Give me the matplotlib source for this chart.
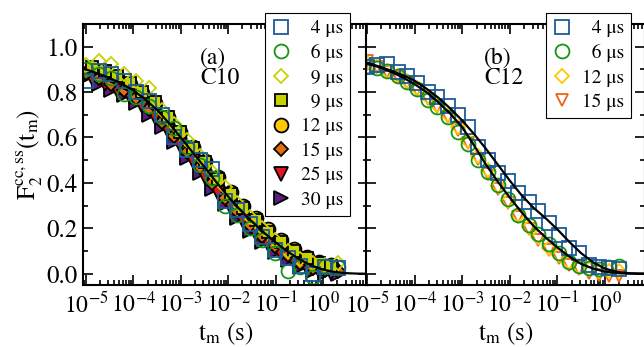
import numpy as np
import matplotlib.pyplot as plt
from matplotlib.ticker import LogLocator, MultipleLocator, NullFormatter, FormatStrFormatter

plt.rcParams['font.family'] = ['STIXGeneral', 'DejaVu Serif']
plt.rcParams['mathtext.fontset'] = 'stix'
plt.rcParams['axes.unicode_minus'] = False

# ---- panel (a) C10 ----
t_a = [1.0e-5, 1.9e-5, 3.4e-5, 6.3e-5, 1.15e-4, 2.1e-4, 4.0e-4, 7.2e-4, 1.35e-3, 2.5e-3,
       4.6e-3, 8.5e-3, 1.55e-2, 2.9e-2, 5.2e-2, 9.8e-2, 0.18, 0.33, 0.62, 1.12, 2.1]
t_b = [1.35e-5, 2.5e-5, 4.6e-5, 8.5e-5, 1.55e-4, 2.9e-4, 5.4e-4, 9.8e-4, 1.8e-3, 3.3e-3,
       6.2e-3, 1.15e-2, 2.1e-2, 3.9e-2, 7.1e-2, 0.13, 0.245, 0.45, 0.83, 1.5]

a_4us = [0.85, 0.895, 0.88, 0.85, 0.80, 0.76, 0.70, 0.60, 0.545, 0.50, 0.46,
         0.32, 0.28, 0.22, 0.16, 0.105, 0.07, 0.035, 0.0, 0.03, 0.025]
a_6us = [0.90, 0.88, 0.86, 0.79, 0.78, 0.74, 0.69, 0.64, 0.56, 0.48, 0.42,
         0.30, 0.26, 0.20, 0.15, 0.09, 0.01, 0.03, -0.015, 0.035, 0.03]
a_9us_open = [0.92, 0.935, 0.925, 0.88, 0.85, 0.82, 0.72, 0.66, 0.59, 0.52, 0.45,
              0.38, 0.31, 0.25, 0.20, 0.15, 0.10, 0.065, 0.045, 0.04, 0.045]
a_9us = [0.91, 0.895, 0.87, 0.84, 0.80, 0.755, 0.69, 0.625, 0.555, 0.49,
         0.415, 0.35, 0.29, 0.235, 0.185, 0.14, 0.10, 0.07, 0.045, 0.035]
a_12us = [0.905, 0.89, 0.865, 0.835, 0.795, 0.75, 0.69, 0.625, 0.56, 0.495,
          0.425, 0.36, 0.30, 0.245, 0.195, 0.15, 0.11, 0.075, 0.05, 0.04]
a_15us = [0.885, 0.86, 0.835, 0.81, 0.775, 0.725, 0.67, 0.605, 0.535, 0.47, 0.40,
          0.335, 0.275, 0.215, 0.165, 0.12, 0.08, 0.045, 0.025, 0.015, 0.01]
a_25us = [0.86, 0.835, 0.81, 0.78, 0.74, 0.69, 0.63, 0.565, 0.495, 0.425,
          0.355, 0.29, 0.23, 0.175, 0.13, 0.085, 0.05, 0.025, 0.01, 0.005]
a_30us = [0.865, 0.835, 0.81, 0.785, 0.75, 0.70, 0.645, 0.58, 0.51, 0.445, 0.375,
          0.305, 0.245, 0.19, 0.14, 0.095, 0.06, 0.03, 0.012, 0.005, 0.0]

fit_t = [8.0e-6, 1.0e-5, 1.78e-5, 3.16e-5, 5.62e-5, 1.0e-4, 1.78e-4, 3.16e-4, 5.62e-4, 1.0e-3,
         1.78e-3, 3.16e-3, 5.62e-3, 1.0e-2, 1.78e-2, 3.16e-2, 5.62e-2, 0.1, 0.178, 0.316,
         0.562, 1.0, 1.78, 3.16, 5.62, 10.0, 13.0]
fit_a = [0.905, 0.900, 0.882, 0.862, 0.838, 0.808, 0.768, 0.722, 0.664, 0.600,
         0.535, 0.470, 0.404, 0.340, 0.282, 0.230, 0.182, 0.138, 0.098, 0.064,
         0.036, 0.018, 0.007, 0.002, 0.0, 0.0, 0.0]

# ---- panel (b) C12 ----
t_c = [1.0e-5, 1.6e-5, 2.6e-5, 4.4e-5, 7.1e-5, 1.15e-4, 1.9e-4, 3.0e-4, 5.0e-4, 8.1e-4,
       1.3e-3, 2.1e-3, 3.5e-3, 5.7e-3, 9.3e-3, 1.5e-2, 2.5e-2, 4.0e-2, 6.6e-2, 0.107,
       0.174, 0.28, 0.46, 0.75, 1.22, 2.0]
b_4us = [0.91, 0.92, 0.925, 0.89, 0.87, 0.84, 0.80, 0.78, 0.74, 0.70, 0.645, 0.56, 0.50,
         0.445, 0.41, 0.355, 0.315, 0.275, 0.225, 0.17, 0.115, 0.09, 0.04, 0.03, 0.025, 0.02]
b_6us = [0.915, 0.905, 0.895, 0.87, 0.845, 0.815, 0.765, 0.735, 0.69, 0.625, 0.57, 0.50,
         0.45, 0.39, 0.33, 0.26, 0.215, 0.175, 0.13, 0.09, 0.05, 0.035, 0.025, 0.02, 0.03, 0.035]
b_12us = [0.93, 0.915, 0.895, 0.87, 0.85, 0.82, 0.78, 0.745, 0.70, 0.645, 0.585, 0.52,
          0.455, 0.385, 0.32, 0.26, 0.205, 0.16, 0.115, 0.08, 0.05, 0.03, 0.02, 0.012, 0.01, 0.01]
b_15us = [0.935, 0.91, 0.89, 0.865, 0.84, 0.81, 0.77, 0.735, 0.69, 0.635, 0.575, 0.505,
          0.44, 0.375, 0.31, 0.25, 0.195, 0.15, 0.105, 0.07, 0.04, 0.02, 0.005, -0.005, -0.01, -0.01]

fit_b_4us = [0.935, 0.930, 0.913, 0.895, 0.875, 0.850, 0.815, 0.775, 0.728, 0.675,
             0.615, 0.550, 0.480, 0.410, 0.345, 0.290, 0.245, 0.195, 0.140, 0.090,
             0.050, 0.022, 0.008, 0.002, 0.0, 0.0, 0.0]
fit_b_rest = [0.93, 0.925, 0.91, 0.89, 0.865, 0.835, 0.800, 0.755, 0.705, 0.645,
              0.565, 0.480, 0.405, 0.335, 0.270, 0.210, 0.160, 0.115, 0.075, 0.043,
              0.022, 0.009, 0.003, 0.0, 0.0, 0.0, 0.0]

decades = [1e-5, 1e-4, 1e-3, 1e-2, 1e-1, 1e0]

blue = '#1e5a96'
green = '#149614'
ygreen = '#c8d200'
gold = '#ffc800'
orange = '#e66e0a'
red = '#e6141e'
purple = '#5a1e82'
orange2 = '#f06414'

W, H = 644, 347
fig = plt.figure(figsize=(W / 100, H / 100), dpi=100)
ax1 = fig.add_axes([83 / W, 1 - 285 / H, 285 / W, 261 / H])
ax2 = fig.add_axes([366 / W, 1 - 285 / H, 279 / W, 261 / H])


def style(ax, lo, hi):
    ax.set_xscale('log')
    ax.set_xlim(lo, hi)
    ax.set_ylim(-0.05, 1.1)
    ax.set_yticks([0.0, 0.2, 0.4, 0.6, 0.8, 1.0])
    ax.yaxis.set_minor_locator(MultipleLocator(0.1))
    ax.yaxis.set_major_formatter(FormatStrFormatter('%.1f'))
    ax.set_xticks(decades)
    ax.xaxis.set_minor_locator(LogLocator(base=10, subs=np.arange(2, 10), numticks=20))
    ax.xaxis.set_minor_formatter(NullFormatter())
    ax.tick_params(which='both', direction='in', top=True, right=True, width=1.2)
    ax.tick_params(which='major', length=7)
    ax.tick_params(axis='x', which='major', pad=5, labelsize=17)
    ax.tick_params(axis='y', which='major', pad=4, labelsize=18)
    ax.tick_params(which='minor', length=3.5)
    for s in ax.spines.values():
        s.set_linewidth(1.5)
    ax.set_xlabel(r'$\mathrm{t}_\mathrm{m}$ (s)', fontsize=18, labelpad=2)
    ax.set_xlim(lo, hi)


style(ax1, 10 ** -5.06, 10 ** 0.95)
style(ax2, 10 ** -5.02, 10 ** 0.84)
ax2.tick_params(labelleft=False)

mew = 1.3
# panel (a): filled series first, open ones on top
h30, = ax1.plot(t_a, a_30us, '>', ms=9.5, mfc=purple, mec='black', mew=mew, ls='none', label='30 μs')
h25, = ax1.plot(t_b, a_25us, 'v', ms=9.5, mfc=red, mec='black', mew=mew, ls='none', label='25 μs')
h15, = ax1.plot(t_a, a_15us, 'D', ms=7.5, mfc=orange, mec='black', mew=mew, ls='none', label='15 μs')
h12, = ax1.plot(t_b, a_12us, 'o', ms=10, mfc=gold, mec='black', mew=mew, ls='none', label='12 μs')
h9f, = ax1.plot(t_b, a_9us, 's', ms=9, mfc=ygreen, mec='black', mew=mew, ls='none', label='  9 μs')
h9o, = ax1.plot(t_a, a_9us_open, 'D', ms=7.5, mfc='none', mec=ygreen, mew=mew, ls='none', label='  9 μs')
h6, = ax1.plot(t_a, a_6us, 'o', ms=10, mfc='none', mec=green, mew=mew, ls='none', label='  6 μs')
h4, = ax1.plot(t_a, a_4us, 's', ms=9.5, mfc='none', mec=blue, mew=mew, ls='none', label='  4 μs')
ax1.plot(fit_t, fit_a, '-', color='black', lw=1.6)

leg_kw = dict(loc='upper left', bbox_transform=fig.transFigure, fontsize=14, frameon=True,
              fancybox=False, edgecolor='black', framealpha=1, borderaxespad=0,
              handlelength=0.9, handletextpad=0.6, labelspacing=0.35, borderpad=0.35,
              numpoints=1)
leg1 = ax1.legend(handles=[h4, h6, h9o, h9f, h12, h15, h25, h30],
                  bbox_to_anchor=(265 / W, 1 - 13 / H), **leg_kw)
leg1.get_frame().set_linewidth(0.8)

fig.text(200 / W, 1 - 47 / H, '(a)', fontsize=17, va='top')
fig.text(200 / W, 1 - 68 / H, 'C10', fontsize=17, va='top')
ax1.set_ylabel(r'$\mathrm{F}_2^{\mathrm{cc,ss}}(\mathrm{t}_\mathrm{m})$', fontsize=18, labelpad=1)

# panel (b)
g15, = ax2.plot(t_c, b_15us, 'v', ms=8, mfc='none', mec=orange2, mew=mew, ls='none', label='15 μs')
g12, = ax2.plot(t_c, b_12us, 'D', ms=7, mfc='none', mec=gold, mew=mew, ls='none', label='12 μs')
g6, = ax2.plot(t_c, b_6us, 'o', ms=10, mfc='none', mec=green, mew=mew, ls='none', label='  6 μs')
g4, = ax2.plot(t_c, b_4us, 's', ms=9.5, mfc='none', mec=blue, mew=mew, ls='none', label='  4 μs')
ax2.plot(fit_t, fit_b_4us, '-', color='black', lw=1.6)
ax2.plot(fit_t, fit_b_rest, '-', color='black', lw=1.6)

leg2 = ax2.legend(handles=[g4, g6, g12, g15],
                  bbox_to_anchor=(546 / W, 1 - 13 / H), **leg_kw)
leg2.get_frame().set_linewidth(0.8)

fig.text(484 / W, 1 - 47 / H, '(b)', fontsize=17, va='top')
fig.text(484 / W, 1 - 68 / H, 'C12', fontsize=17, va='top')

fig.savefig('out.png', dpi=100)
